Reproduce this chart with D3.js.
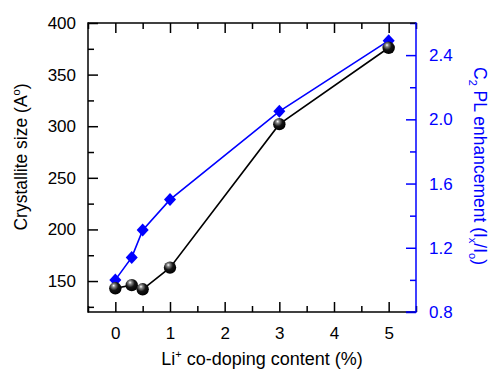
<!DOCTYPE html>
<html>
<head>
<meta charset="utf-8">
<script src="https://cdn.jsdelivr.net/npm/d3@7/dist/d3.min.js"></script>
<style>
  html, body { margin: 0; padding: 0; background: #fff; }
  svg { display: block; font-family: Arial, "Liberation Sans", sans-serif; }
</style>
</head>
<body>
<svg id="chart" width="489" height="370"></svg>
<script>
// Li+ co-doping content (%)
const doping = [0, 0.3, 0.5, 1, 3, 5];
// Crystallite size (Å), left axis
const crystalliteSize = [143, 146, 142, 163, 302, 376];
// C2 PL enhancement (Ix/Io), right axis
const plEnhancement = [1.0, 1.14, 1.31, 1.5, 2.05, 2.49];

const xTicks = [0, 1, 2, 3, 4, 5];
const xMinorTicks = [-0.5, 0.5, 1.5, 2.5, 3.5, 4.5, 5.5];
const leftTicks = [150, 200, 250, 300, 350, 400];
const leftMinorTicks = [125, 175, 225, 275, 325, 375];
const rightTicks = [0.8, 1.2, 1.6, 2.0, 2.4];
const rightMinorTicks = [1.0, 1.4, 1.8, 2.2, 2.6];

const blue = "#0000ff";
const svg = d3.select("#chart");
const plot = { left: 88, right: 416, top: 23, bottom: 312 };

const x = d3.scaleLinear().domain([-0.5, 5.5]).range([plot.left, plot.right]);
const yL = d3.scaleLinear().domain([120, 400]).range([plot.bottom, plot.top]);
const yR = d3.scaleLinear().domain([0.8, 2.6]).range([plot.bottom, plot.top]);

const defs = svg.append("defs");
const grad = defs.append("radialGradient")
  .attr("id", "sphere").attr("cx", "0.4").attr("cy", "0.35").attr("r", "0.65")
  .attr("fx", "0.36").attr("fy", "0.28");
grad.append("stop").attr("offset", "0%").attr("stop-color", "#ffffff");
grad.append("stop").attr("offset", "20%").attr("stop-color", "#8a8a8a");
grad.append("stop").attr("offset", "55%").attr("stop-color", "#141414");
grad.append("stop").attr("offset", "100%").attr("stop-color", "#000000");

function styleAxis(g, color, fontSize) {
  g.select(".domain").remove();
  g.selectAll(".tick line").attr("stroke", color).attr("stroke-width", 1.5);
  g.selectAll(".tick text").attr("fill", color).style("font-size", fontSize + "px")
    .style("font-family", "Arial, 'Liberation Sans', sans-serif");
}

const fs = 17;

// bottom axis
svg.append("g").attr("transform", `translate(0,${plot.bottom})`)
  .call(d3.axisBottom(x).tickValues(xTicks).tickSize(-10).tickPadding(15).tickFormat(d3.format("d")))
  .call(g => styleAxis(g, "#000", fs));
svg.append("g").attr("transform", `translate(0,${plot.bottom})`)
  .call(d3.axisBottom(x).tickValues(xMinorTicks).tickSize(-6).tickFormat(""))
  .call(g => styleAxis(g, "#000", fs));
// top axis
svg.append("g").attr("transform", `translate(0,${plot.top})`)
  .call(d3.axisTop(x).tickValues(xTicks).tickSize(-10).tickFormat(""))
  .call(g => styleAxis(g, "#000", fs));
svg.append("g").attr("transform", `translate(0,${plot.top})`)
  .call(d3.axisTop(x).tickValues(xMinorTicks).tickSize(-6).tickFormat(""))
  .call(g => styleAxis(g, "#000", fs));
// left axis
svg.append("g").attr("transform", `translate(${plot.left},0)`)
  .call(d3.axisLeft(yL).tickValues(leftTicks).tickSize(-10).tickPadding(12).tickFormat(d3.format("d")))
  .call(g => styleAxis(g, "#000", fs));
svg.append("g").attr("transform", `translate(${plot.left},0)`)
  .call(d3.axisLeft(yL).tickValues(leftMinorTicks).tickSize(-6).tickFormat(""))
  .call(g => styleAxis(g, "#000", fs));
// right axis
svg.append("g").attr("transform", `translate(${plot.right},0)`)
  .call(d3.axisRight(yR).tickValues(rightTicks).tickSize(-10).tickPadding(13).tickFormat(d3.format(".1f")))
  .call(g => styleAxis(g, blue, fs));
svg.append("g").attr("transform", `translate(${plot.right},0)`)
  .call(d3.axisRight(yR).tickValues(rightMinorTicks).tickSize(-6).tickFormat(""))
  .call(g => styleAxis(g, blue, fs));

// frame lines
svg.append("line").attr("x1", plot.left).attr("x2", plot.right).attr("y1", plot.bottom).attr("y2", plot.bottom)
  .attr("stroke", "#000").attr("stroke-width", 1.5);
svg.append("line").attr("x1", plot.left).attr("x2", plot.right).attr("y1", plot.top).attr("y2", plot.top)
  .attr("stroke", "#000").attr("stroke-width", 1.5);
svg.append("line").attr("x1", plot.left).attr("x2", plot.left).attr("y1", plot.top - 0.75).attr("y2", plot.bottom + 0.75)
  .attr("stroke", "#000").attr("stroke-width", 1.5);
svg.append("line").attr("x1", plot.right - 10).attr("x2", plot.right).attr("y1", plot.bottom).attr("y2", plot.bottom)
  .attr("stroke", blue).attr("stroke-width", 1.5);
svg.append("line").attr("x1", plot.right).attr("x2", plot.right).attr("y1", plot.top - 0.75).attr("y2", plot.bottom + 0.75)
  .attr("stroke", blue).attr("stroke-width", 1.5);

// data lines
const sizeData = doping.map((d, i) => [d, crystalliteSize[i]]);
const plData = doping.map((d, i) => [d, plEnhancement[i]]);

svg.append("path").datum(plData)
  .attr("fill", "none").attr("stroke", blue).attr("stroke-width", 1.6)
  .attr("d", d3.line().x(d => x(d[0])).y(d => yR(d[1])));
svg.append("path").datum(sizeData)
  .attr("fill", "none").attr("stroke", "#000").attr("stroke-width", 1.6)
  .attr("d", d3.line().x(d => x(d[0])).y(d => yL(d[1])));

// blue diamonds
svg.append("g").selectAll("path").data(plData).join("path")
  .attr("transform", d => `translate(${x(d[0])},${yR(d[1])})`)
  .attr("d", "M0,-6.5L6,0L0,6.5L-6,0Z")
  .attr("fill", blue);

// black spheres
svg.append("g").selectAll("circle").data(sizeData).join("circle")
  .attr("cx", d => x(d[0])).attr("cy", d => yL(d[1])).attr("r", 6.2)
  .attr("fill", "url(#sphere)");

// axis titles
const tfs = 17.5;
const xt = svg.append("text").attr("x", 262).attr("y", 365).attr("text-anchor", "middle")
  .style("font-size", "18px").attr("fill", "#000");
xt.append("tspan").text("Li");
xt.append("tspan").attr("dy", -7).style("font-size", "11px").text("+");
xt.append("tspan").attr("dy", 7).text(" co-doping content (%)");

const lt = svg.append("text").attr("transform", "translate(27,157) rotate(-90)").attr("text-anchor", "middle")
  .style("font-size", tfs + "px").attr("fill", "#000");
lt.append("tspan").text("Crystallite size (A");
lt.append("tspan").attr("dy", -7).style("font-size", "11px").text("o");
lt.append("tspan").attr("dy", 7).text(")");

const rt = svg.append("text").attr("transform", "translate(474,166) rotate(90)").attr("text-anchor", "middle")
  .style("font-size", tfs + "px").attr("fill", blue);
rt.append("tspan").text("C");
rt.append("tspan").attr("dy", 5).style("font-size", "11px").text("2");
rt.append("tspan").attr("dy", -5).text(" PL enhancement (I");
rt.append("tspan").attr("dy", 5).style("font-size", "11px").text("x");
rt.append("tspan").attr("dy", -5).text("/I");
rt.append("tspan").attr("dy", 5).style("font-size", "11px").text("o");
rt.append("tspan").attr("dy", -5).text(")");
</script>
</body>
</html>
